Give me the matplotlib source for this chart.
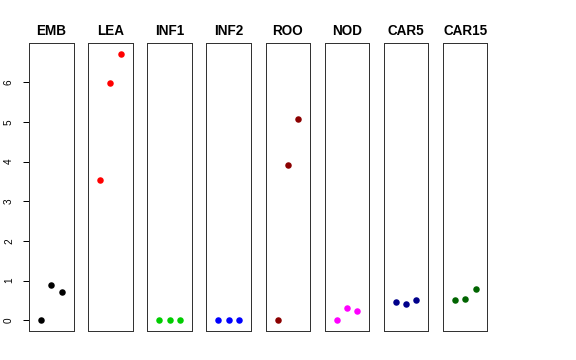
import matplotlib.pyplot as plt

plt.rcParams['font.family'] = ['Liberation Sans', 'DejaVu Sans']

tissues = ["EMB", "LEA", "INF1", "INF2", "ROO", "NOD", "CAR5", "CAR15"]
colors = ["black", "#FF0000", "#00CD00", "#0000FF", "#8B0000", "#FF00FF", "#00008B", "#006400"]

emb = [0.0, 0.90, 0.72]
lea = [3.53, 5.97, 6.72]
inf1 = [0.0, 0.0, 0.0]
inf2 = [0.0, 0.0, 0.0]
roo = [0.0, 3.91, 5.07]
nod = [0.0, 0.31, 0.23]
car5 = [0.46, 0.40, 0.52]
car15 = [0.52, 0.53, 0.78]
values = [emb, lea, inf1, inf2, roo, nod, car5, car15]

reps = [1, 2, 3]
yticks = [0, 1, 2, 3, 4, 5, 6]

W, H = 576, 360
fig = plt.figure(figsize=(8, 5), dpi=72)

ymax = max(max(v) for v in values)
ylo, yhi = -0.04 * ymax, ymax * 1.04

for i, name in enumerate(tissues):
    left = 29 + i * 59.14
    ax = fig.add_axes([left / W, (H - 331) / H, 44.5 / W, 288 / H])
    ax.plot(reps, values[i], 'o', color=colors[i], markersize=6.5, markeredgewidth=0)
    ax.set_xlim(-0.16, 4.16)
    ax.set_ylim(ylo, yhi)
    ax.set_xticks([])
    for s in ax.spines.values():
        s.set_linewidth(1)
        s.set_color("#333333")
    if i == 0:
        ax.set_yticks(yticks)
        ax.set_yticklabels([str(t) for t in yticks], rotation=90, va='center', fontsize=10)
        ax.tick_params(axis='y', length=6, width=1, pad=9)
    else:
        ax.set_yticks([])
    ax.set_title(name, fontsize=13.5, fontweight='bold', pad=8)

fig.savefig("out.png", dpi=72)
